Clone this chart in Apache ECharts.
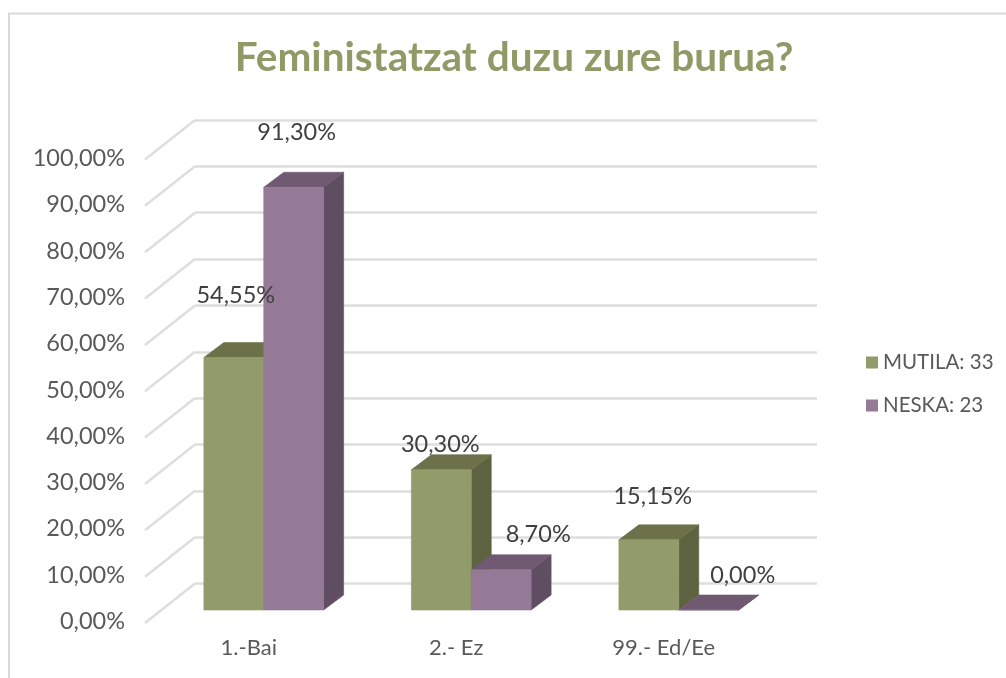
<!DOCTYPE html>
<html><head><meta charset="utf-8">
<style>html,body{margin:0;padding:0;background:#fff}#c{width:1006px;height:678px}</style>
<script src="https://cdn.jsdelivr.net/npm/echarts@6/dist/echarts.min.js"></script>
</head><body><div id="c"></div>
<script>
const categories = ['1.-Bai', '2.- Ez', '99.- Ed/Ee'];
const mutila = [54.55, 30.30, 15.15];
const neska = [91.30, 8.70, 0.00];
const gridTicks = [0,10,20,30,40,50,60,70,80,90,100];
const seriesNames = ['MUTILA: 33', 'NESKA: 23'];

const FONT = 'Lato';
const TEXT = '#595959';
const DEPTH = [20, -15];
const PLANE = [15, -11.5];
const fmt = v => v.toFixed(2).replace('.', ',') + '%';
const labelNudge = {
  'MUTILA: 33': [[2, -62], [-1, -25], [4, -43]],
  'NESKA: 23': [[3, -55], [37, -35], [34, -35]]
};
function barSeries(name, values, side, front, top, sideCol) {
  return {
    type: 'custom', name, xAxisIndex: 0, yAxisIndex: 0, z: 3,
    itemStyle: { color: front },
    encode: { x: 0, y: 1 },
    data: values.map((v, i) => [i, v]),
    renderItem(params, api) {
      const i = api.value(0), v = api.value(1);
      const t = api.coord([i, v]), b = api.coord([i, 0]);
      const w = api.size([1, 0])[0] * 0.2885;
      const xL = t[0] + PLANE[0] + (side < 0 ? -w : 0), xR = xL + w;
      const yT = t[1] + PLANE[1], yB = b[1] + PLANE[1];
      const [dx, dy] = DEPTH;
      const n = labelNudge[name][i];
      return { type: 'group', children: [
        { type: 'polygon', shape: { points: [[xR, yT], [xR + dx, yT + dy], [xR + dx, yB + dy], [xR, yB]] }, style: { fill: sideCol, stroke: sideCol, lineWidth: 0.6 } },
        { type: 'polygon', shape: { points: [[xL, yT], [xL + dx, yT + dy], [xR + dx, yT + dy], [xR, yT]] }, style: { fill: top, stroke: top, lineWidth: 0.6 } },
        { type: 'rect', shape: { x: xL, y: yT, width: w, height: yB - yT }, style: { fill: front, stroke: front, lineWidth: 0.6 } },
        { type: 'text', z2: 50, style: { x: (xL + xR) / 2 + n[0], y: yT + n[1], text: fmt(v), fill: '#404040', font: '23.5px ' + FONT, align: 'center', verticalAlign: 'middle' } }
      ]};
    }
  };
}
const option = {
  animation: false,
  backgroundColor: '#fff',
  title: { text: 'Feministatzat duzu zure burua?', left: 509, top: 32, textAlign: 'center',
    textStyle: { color: '#8f9a66', fontFamily: FONT, fontWeight: 'bold', fontSize: 40.5 } },
  legend: { orient: 'vertical', left: 861, top: 347, itemWidth: 12, itemHeight: 12, itemGap: 22, icon: 'rect',
    data: seriesNames, textStyle: { color: TEXT, fontFamily: FONT, fontSize: 20.5 } },
  grid: [
    { left: 145, top: 158.5, width: 622.5, height: 463 },
    { left: 195, top: 120, width: 622, height: 463.5 }
  ],
  xAxis: [
    { gridIndex: 0, type: 'category', data: categories, axisLine: { show: false }, axisTick: { show: false },
      axisLabel: { color: TEXT, fontFamily: FONT, fontSize: 22, margin: 15 } },
    { gridIndex: 1, type: 'category', data: categories, show: false }
  ],
  yAxis: [
    { gridIndex: 0, type: 'value', min: 0, max: 100, interval: 10, splitLine: { show: false },
      axisLine: { show: false }, axisTick: { show: false },
      axisLabel: { color: TEXT, fontFamily: FONT, fontSize: 23.5, margin: 20, formatter: v => v.toFixed(2).replace('.', ',') + '%' } },
    { gridIndex: 1, type: 'value', min: 0, max: 100, interval: 10, axisLabel: { show: false },
      axisLine: { show: false }, axisTick: { show: false },
      splitLine: { show: true, lineStyle: { color: '#dedede', width: 2.5 } } }
  ],
  graphic: [{ type: 'polyline', silent: true, z: -1,
    shape: { points: [[9, 690], [9, 13.5], [1010, 13.5]] }, style: { stroke: '#d9d9d9', lineWidth: 2, fill: null } }],
  series: [
    { type: 'custom', name: 'wall', xAxisIndex: 1, yAxisIndex: 1, z: 1, silent: true,
      encode: { y: 0 }, data: gridTicks.map(v => [v]),
      renderItem(params, api) {
        const y = api.coord([0, api.value(0)])[1];
        const x = params.coordSys.x;
        return { type: 'line', shape: { x1: x, y1: y, x2: x - 50, y2: y + 39.5 }, style: { stroke: '#dedede', lineWidth: 2.5 } };
      } },
    barSeries(seriesNames[0], mutila, -1, '#929b6a', '#6c714a', '#5d6341'),
    barSeries(seriesNames[1], neska, 1, '#947a96', '#705a72', '#5f4e62')
  ]
};
echarts.init(document.getElementById('c'), null, { renderer: 'canvas' }).setOption(option);
</script></body></html>
